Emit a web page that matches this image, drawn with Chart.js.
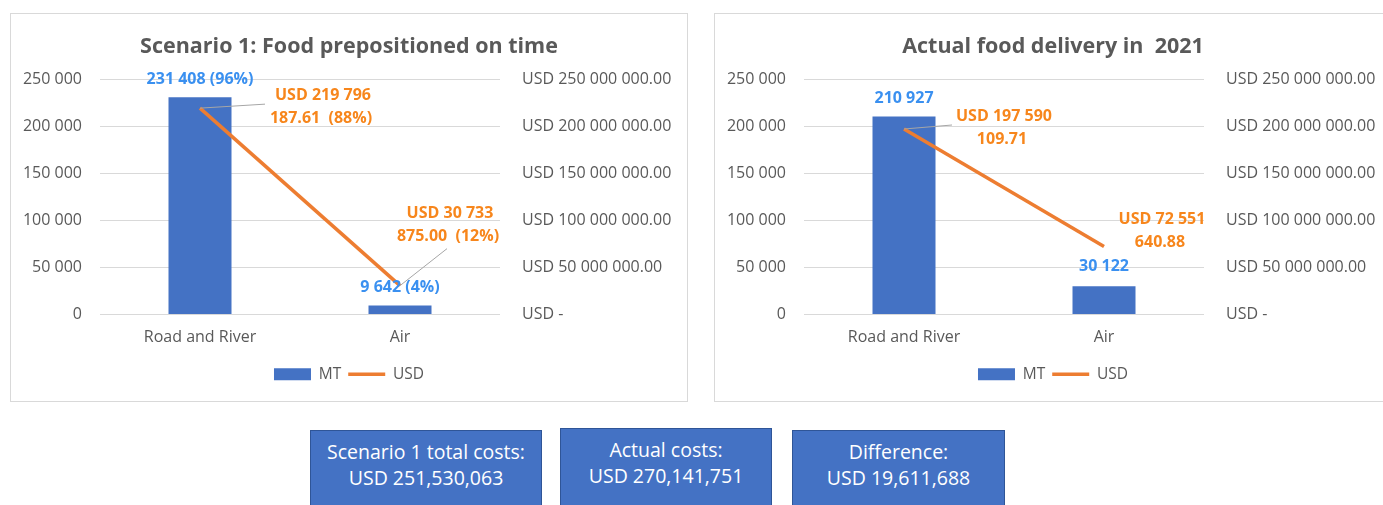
<!DOCTYPE html>
<html lang="en">
<head>
<meta charset="UTF-8">
<title>Food delivery costs</title>
<script src="https://cdn.jsdelivr.net/npm/chart.js@4.4.1/dist/chart.umd.min.js"></script>
<style>
  html, body { margin: 0; padding: 0; background: #fff; overflow: hidden; }
  body { width: 1383px; height: 505px; position: relative; font-family: "Open Sans", sans-serif; }
  .panel { position: absolute; top: 13px; width: 676px; height: 387px; border: 1px solid #d9d9d9; background: #fff; }
  .panel canvas { display: block; }
  .box { position: absolute; background: #4472c4; border: 1px solid #2f5597; color: #fff;
         font-size: 19.5px; line-height: 26px; text-align: center; padding-top: 8px; box-sizing: border-box; height: 90px; }
</style>
</head>
<body>
<div class="panel" style="left:10px"><canvas id="c1" width="676" height="387"></canvas></div>
<div class="panel" style="left:714px"><canvas id="c2" width="676" height="387"></canvas></div>

<div class="box" style="left:310px;top:430px;width:232px">Scenario 1 total costs:<br>USD 251,530,063</div>
<div class="box" style="left:560px;top:428px;width:212px">Actual costs:<br>USD 270,141,751</div>
<div class="box" style="left:792px;top:430px;width:213px">Difference:<br>USD 19,611,688</div>

<script>
// data
const modes = ['Road and River', 'Air'];
const scenarioMT = [231408, 9642];
const scenarioUSD = [219796187.61, 30733875.00];
const actualMT = [210927, 30122];
const actualUSD = [197590109.71, 72551640.88];
const leftTicks = [0, 50000, 100000, 150000, 200000, 250000];
const rightTicks = [0, 50000000, 100000000, 150000000, 200000000, 250000000];

const GREY = '#595959';
const BAR = '#4472c4';
const LINE = '#ed7d31';
const BLUE_LBL = '#3a90f0';
const ORANGE_LBL = '#f7861c';
const FONT = '"Open Sans", sans-serif';

function spaced(n) {
  return String(n).replace(/\B(?=(\d{3})+(?!\d))/g, ' ');
}
function pct(v, arr) {
  const s = arr.reduce((a, b) => a + b, 0);
  return Math.round(v / s * 100) + '%';
}
// "USD 219 796" / "187.61"
function usdLines(v) {
  const whole = Math.floor(v);
  const dec = v.toFixed(2).split('.')[1];
  const parts = spaced(whole).split(' ');
  return ['USD ' + parts.slice(0, 2).join(' '), parts.slice(2).join(' ') + '.' + dec];
}

// data labels, placed from the bar / point positions
const labelPlugin = {
  id: 'pointLabels',
  afterDatasetsDraw(chart, args, opts) {
    const ctx = chart.ctx;
    const bars = chart.getDatasetMeta(0).data;
    const pts = chart.getDatasetMeta(1).data;
    ctx.save();
    ctx.font = 'bold 16px ' + FONT;
    ctx.textAlign = 'center';
    ctx.textBaseline = 'middle';
    opts.bar.forEach((b, i) => {
      ctx.fillStyle = BLUE_LBL;
      ctx.fillText(b.text, bars[i].x + b.dx, bars[i].y + b.dy);
    });
    opts.line.forEach((l, i) => {
      const p = pts[i];
      if (l.leader) {
        ctx.strokeStyle = '#a6a6a6';
        ctx.lineWidth = 1;
        ctx.beginPath();
        ctx.moveTo(p.x, p.y);
        ctx.lineTo(p.x + l.leader[0], p.y + l.leader[1]);
        ctx.stroke();
      }
      ctx.fillStyle = ORANGE_LBL;
      ctx.fillText(l.lines[0], p.x + l.dx, p.y + l.dy);
      ctx.fillText(l.lines[1], p.x + l.dx - 2, p.y + l.dy + 23);
    });
    ctx.restore();
  }
};

function makeChart(id, title, mt, usd, labels) {
  new Chart(document.getElementById(id), {
    data: {
      labels: modes,
      datasets: [
        { type: 'bar', label: 'MT', data: mt, backgroundColor: BAR, yAxisID: 'y',
          categoryPercentage: 1, barPercentage: 0.315, order: 2, pointStyle: 'rect' },
        { type: 'line', label: 'USD', data: usd, borderColor: LINE, backgroundColor: LINE,
          borderWidth: 3.5, pointRadius: 0, yAxisID: 'y1', order: 1, pointStyle: 'line' }
      ]
    },
    plugins: [labelPlugin],
    options: {
      responsive: false,
      animation: false,
      layout: { padding: { left: 0, right: 0, top: 0, bottom: 9 } },
      scales: {
        x: {
          offset: true,
          grid: { display: false },
          border: { display: false },
          ticks: { color: GREY, font: { family: FONT, size: 16 }, padding: 5 },
          afterFit(s) { s.height = 45; }
        },
        y: {
          position: 'left',
          min: 0, max: 250000,
          afterBuildTicks(s) { s.ticks = leftTicks.map(v => ({ value: v })); },
          grid: { color: '#d9d9d9', lineWidth: 1, drawTicks: false },
          border: { display: false },
          ticks: { color: GREY, font: { family: FONT, size: 16 }, padding: 18,
                   callback: v => spaced(v) },
          afterFit(s) { s.width = 89; }
        },
        y1: {
          position: 'right',
          min: 0, max: 250000000,
          afterBuildTicks(s) { s.ticks = rightTicks.map(v => ({ value: v })); },
          grid: { display: false, drawTicks: false },
          border: { display: false },
          ticks: { color: GREY, font: { family: FONT, size: 16 }, padding: 22,
                   callback: v => v === 0 ? 'USD -' : 'USD ' + spaced(v) + '.00' },
          afterFit(s) { s.width = 187; }
        }
      },
      plugins: {
        title: { display: true, text: title, color: GREY,
                 font: { family: FONT, size: 21.5, weight: 'bold' }, padding: { top: 20, bottom: 20 } },
        legend: {
          position: 'bottom',
          labels: { color: GREY, font: { family: FONT, size: 15.5 }, usePointStyle: true,
                    pointStyleWidth: 37, boxHeight: 12, padding: 7,
                    sort: (a, b) => a.datasetIndex - b.datasetIndex }
        },
        tooltip: { enabled: false },
        pointLabels: labels
      }
    }
  });
}

makeChart('c1', 'Scenario 1: Food prepositioned on time', scenarioMT, scenarioUSD, {
  bar: [
    { text: spaced(scenarioMT[0]) + ' (' + pct(scenarioMT[0], scenarioMT) + ')', dx: 0, dy: -18 },
    { text: spaced(scenarioMT[1]) + ' (' + pct(scenarioMT[1], scenarioMT) + ')', dx: 0, dy: -18 }
  ],
  line: [
    { lines: [usdLines(scenarioUSD[0])[0], usdLines(scenarioUSD[0])[1] + '  (' + pct(scenarioUSD[0], scenarioUSD) + ')'],
      dx: 123, dy: -13, leader: [65, -4] },
    { lines: [usdLines(scenarioUSD[1])[0], usdLines(scenarioUSD[1])[1] + '  (' + pct(scenarioUSD[1], scenarioUSD) + ')'],
      dx: 50, dy: -72, leader: [47, -37] }
  ]
});

makeChart('c2', 'Actual food delivery in  2021', actualMT, actualUSD, {
  bar: [
    { text: spaced(actualMT[0]), dx: 0, dy: -18 },
    { text: spaced(actualMT[1]), dx: 0, dy: -20 }
  ],
  line: [
    { lines: usdLines(actualUSD[0]), dx: 100, dy: -13, leader: [48, -4] },
    { lines: usdLines(actualUSD[1]), dx: 58, dy: -27, leader: null }
  ]
});
</script>
</body>
</html>
